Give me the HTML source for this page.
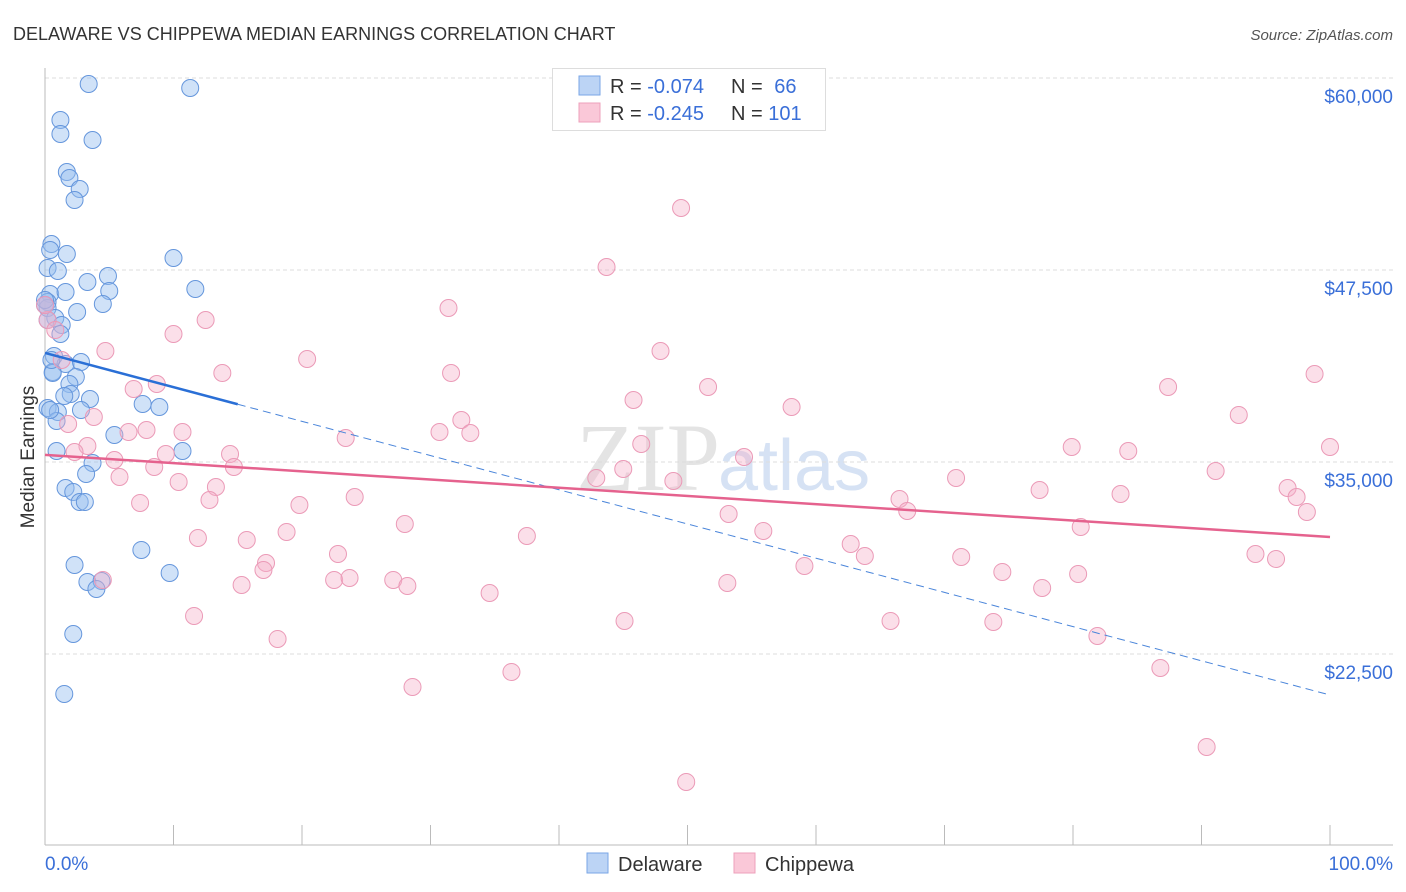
<!DOCTYPE html>
<html><head><meta charset="utf-8">
<style>
body{margin:0;background:#fff;font-family:"Liberation Sans",sans-serif;}
#wrap{position:relative;width:1406px;height:892px;overflow:hidden;}
</style></head>
<body>
<div id="wrap">
<svg id="svg" width="1406" height="892" xmlns="http://www.w3.org/2000/svg">
<text x="13" y="40" font-size="18" fill="#333">DELAWARE VS CHIPPEWA MEDIAN EARNINGS CORRELATION CHART</text>
<text x="1393" y="40" font-size="15" fill="#555" font-style="italic" text-anchor="end">Source: ZipAtlas.com</text>
<text x="720" y="490" font-size="96" fill="#e4e4e4" text-anchor="end" font-family="Liberation Serif">ZIP</text>
<text x="718" y="490" font-size="72" fill="#d6e2f4">atlas</text>
<g id="grid"></g>
<g id="axes"></g>
<g id="pts"></g>
<g id="lines"></g>
<text transform="translate(34,457) rotate(-90)" font-size="19" fill="#333" text-anchor="middle">Median Earnings</text>
<text x="45" y="870" font-size="19" fill="#3a6fd8">0.0%</text>
<text x="1393" y="870" font-size="19" fill="#3a6fd8" text-anchor="end">100.0%</text>
<g>
<rect x="552.5" y="68.5" width="273" height="62" fill="#fff" stroke="#ddd"/>
<rect x="579" y="76" width="21" height="19" fill="#bcd4f5" stroke="#7aa6e6"/>
<rect x="579" y="103" width="21" height="19" fill="#fac8d8" stroke="#eea0bb"/>
<text x="610" y="93" font-size="20" fill="#333">R = <tspan fill="#3a6fd8">-0.074</tspan></text>
<text x="731" y="93" font-size="20" fill="#333">N = <tspan fill="#3a6fd8" dx="6">66</tspan></text>
<text x="610" y="120" font-size="20" fill="#333">R = <tspan fill="#3a6fd8">-0.245</tspan></text>
<text x="731" y="120" font-size="20" fill="#333">N = <tspan fill="#3a6fd8">101</tspan></text>
</g>
<g>
<rect x="587" y="853" width="21" height="20" fill="#bcd4f5" stroke="#7aa6e6"/>
<text x="618" y="871" font-size="20" fill="#333">Delaware</text>
<rect x="734" y="853" width="21" height="20" fill="#fac8d8" stroke="#eea0bb"/>
<text x="765" y="871" font-size="20" fill="#333">Chippewa</text>
</g>
</svg>
</div>
<script>
const yTicks=[22500,35000,47500,60000];
const yTickLabels=["$22,500","$35,000","$47,500","$60,000"];
const blueX=[3.4,11.3,1.2,1.2,3.7,1.7,1.9,2.7,2.3,0.5,0.4,1.7,10.0,0.2,1.0,4.9,3.3,0.4,1.6,5.0,11.7,0.2,4.5,2.5,0.2,0.8,1.3,1.2,0.7,0.6,1.6,2.8,2.4,1.9,0.6,2.0,3.5,1.5,7.6,8.9,0.2,1.0,2.8,0.9,5.4,10.7,0.9,3.7,3.2,1.6,2.2,2.7,3.1,7.5,2.3,3.3,4.4,4.0,9.7,2.2,1.5,0,0,0.2,0.4,0.5];
const blueY=[59609,59349,57266,56354,55963,53880,53489,52773,52057,49193,48803,48542,48282,47631,47436,47110,46720,45938,46069,46134,46264,45418,45287,44766,45027,44376,43920,43334,41902,40859,41381,41512,40535,40079,40795,39428,39103,39298,38777,38582,38517,38257,38387,37671,36759,35718,35718,34936,34220,33309,33049,32398,32398,29273,28296,27190,27255,26734,27776,23804,19898,45548,45222,44246,38387,41642];
const pinkX=[49.5,43.7,31.4,0.2,0.8,10.0,12.5,4.7,47.9,20.4,1.3,13.8,31.6,51.6,87.4,98.8,6.9,8.7,45.8,58.1,1.8,3.8,32.4,92.9,30.7,33.1,6.5,7.9,10.7,23.4,46.4,3.3,2.3,9.4,14.4,54.4,79.9,84.3,100,5.4,8.5,14.7,45.0,42.9,48.9,91.1,5.8,10.4,13.3,70.9,77.4,83.7,96.7,97.4,7.4,12.8,19.8,24.1,53.2,66.5,67.1,98.2,80.6,18.8,28.0,37.5,55.9,11.9,15.7,62.7,63.8,71.3,94.2,95.8,22.8,17.2,17.0,59.1,74.5,80.4,22.5,23.7,27.1,28.2,53.1,15.3,77.6,4.5,34.6,11.6,45.1,65.8,73.8,18.1,81.9,86.8,36.3,28.6,90.4,49.9,0];
const pinkY=[51537,47696,45027,44246,43595,43334,44246,42228,42228,41707,41642,40795,40795,39884,39884,40730,39754,40079,39038,38582,37475,37931,37736,38062,36955,36889,36955,37085,36955,36564,36173,36043,35653,35522,35522,35327,35978,35718,35978,35132,34676,34676,34546,33960,33765,34416,34025,33700,33374,33960,33179,32918,33309,32723,32333,32528,32202,32723,31616,32593,31812,31747,30770,30445,30965,30184,30510,30054,29924,29663,28882,28817,29012,28687,29012,28426,27971,28231,27841,27710,27320,27450,27320,26929,27125,26994,26799,27320,26473,24976,24651,24651,24586,23479,23674,21591,21331,20354,16448,14170,45222];
const blueTrend=[42100,19830];
const pinkTrend=[35460,30120];
const blueSolidEnd=15;

const NS="http://www.w3.org/2000/svg";
const xs=p=>45+p*12.85;
const ys=v=>78+(60000-v)*0.01536;
function mk(tag,attrs,parent){const e=document.createElementNS(NS,tag);for(const k in attrs)e.setAttribute(k,attrs[k]);parent.appendChild(e);return e;}
const grid=document.getElementById('grid'),axes=document.getElementById('axes'),pts=document.getElementById('pts'),lines=document.getElementById('lines');
yTicks.forEach((t,i)=>{
 const l=mk('line',{x1:45,x2:1393,y1:ys(t),y2:ys(t),stroke:'#dddddd','stroke-dasharray':'4,3'},grid);
 
 
 const tx=mk('text',{x:1393,y:ys(t)+25,'font-size':19,fill:'#3a6fd8','text-anchor':'end'},grid);
 tx.textContent=yTickLabels[i];
 
 
});
const ya=mk('line',{x1:45,x2:45,y1:68,y2:845,stroke:'#bbb'},axes);


const xa=mk('line',{x1:45,x2:1393,y1:845,y2:845,stroke:'#bbb'},axes);


for(let i=0;i<=10;i++){
 const t=mk('line',{x1:xs(i*10),x2:xs(i*10),y1:825,y2:845,stroke:'#bbb'},axes);
 
 
}
blueX.forEach((x,i)=>{
 const c=mk('circle',{cx:xs(x),cy:ys(blueY[i]),r:8.5,fill:'rgba(150,190,240,0.45)',stroke:'#6596dc','stroke-width':1},pts);
 
 
});
pinkX.forEach((x,i)=>{
 const c=mk('circle',{cx:xs(x),cy:ys(pinkY[i]),r:8.5,fill:'rgba(245,175,200,0.4)',stroke:'#eb9ab7','stroke-width':1},pts);
 
 
});
const bv=p=>blueTrend[0]+(blueTrend[1]-blueTrend[0])*p/100;
const b1=mk('line',{x1:xs(0),y1:ys(bv(0)),x2:xs(blueSolidEnd),y2:ys(bv(blueSolidEnd)),stroke:'#2a6fd6','stroke-width':2.5},lines);


const b2=mk('line',{x1:xs(blueSolidEnd),y1:ys(bv(blueSolidEnd)),x2:xs(100),y2:ys(bv(100)),stroke:'#4a85da','stroke-width':1,'stroke-dasharray':'8,5'},lines);


const p1=mk('line',{x1:xs(0),y1:ys(pinkTrend[0]),x2:xs(100),y2:ys(pinkTrend[1]),stroke:'#e5628e','stroke-width':2.5},lines);


</script>
</body></html>
